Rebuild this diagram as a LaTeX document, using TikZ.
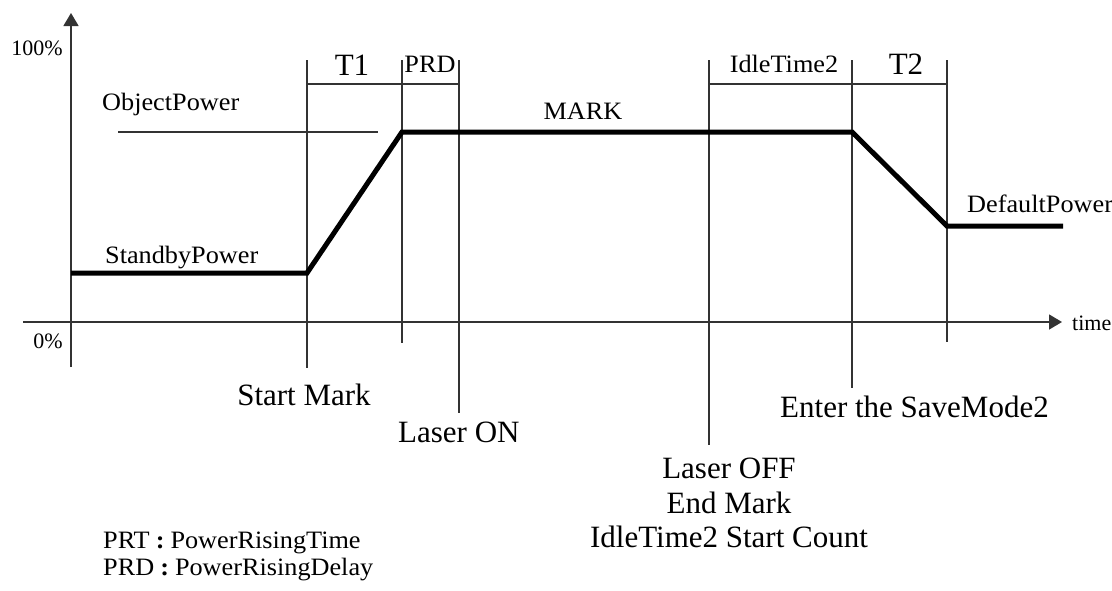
\documentclass[tikz,border=0pt]{standalone}
\usepackage{fontspec}
\setmainfont{Liberation Serif}
\newfontfamily\slab[FakeStretch=1.05]{Liberation Serif}
\usepackage{tikz}
\usetikzlibrary{arrows.meta,positioning}
\definecolor{guidegray}{HTML}{333333}

\begin{document}
\begin{tikzpicture}[x=1pt, y=-1pt,
  guide/.style={draw=guidegray, line width=1.5pt},
  power/.style={draw=black, line width=5pt, line join=miter},
  axis/.style={guide, -{Triangle[length=13pt,width=15pt]}},
  lab/.style={inner sep=0pt, font=\slab\fontsize{25}{27}\selectfont},
  evt/.style={inner sep=0pt, align=center, font=\fontsize{31}{34.5}\selectfont},
  ticklab/.style={inner sep=0pt, font=\fontsize{22}{24}\selectfont}]
\useasboundingbox (0,0) rectangle (1112,590);
% axes
\coordinate (ytop) at (71,13); \coordinate (ybot) at (71,367);
\coordinate (xl) at (23,322); \coordinate (xr) at (1062,322);
\draw[axis] (ybot) -- (ytop);
\draw[axis] (xl) -- (xr);
\node[ticklab, anchor=base east] (full) at (63,55) {100\%};
\node[ticklab, anchor=base east] (zero) at (63,348) {0\%};
\node[ticklab, anchor=base west] (time) at (1072,330) {time};
% event lines
\foreach \n/\x/\yb in {smark/307/368, prd/402/343, lon/459/413, loff/709/445, save/852/388, tend/947/342}{
  \coordinate (\n-t) at (\x,60);
  \coordinate (\n-b) at (\x,\yb);
  \draw[guide] (\n-t) -- (\n-b);}
\coordinate (dimy) at (0,84);
\draw[guide] (smark-t |- dimy) -- (lon-t |- dimy);
\draw[guide] (loff-t |- dimy) -- (tend-t |- dimy);
\node[evt, anchor=base] (t1) at (352,75) {T1};
\node[lab, anchor=base] (prdlab) at (430,72) {PRD};
\node[lab, anchor=base] (idle) at (784,72) {IdleTime2};
\node[evt, anchor=base] (t2) at (906,74) {T2};
% power curve
\coordinate (op-a) at (118,132); \coordinate (op-b) at (378,132);
\draw[guide] (op-a) -- (op-b);
\coordinate (sb-a) at (71,273); \coordinate (sb-b) at (307,273);
\coordinate (ob-a) at (402,132); \coordinate (ob-b) at (852,132);
\coordinate (df-a) at (947,226); \coordinate (df-b) at (1063,226);
\draw[power] (sb-a) -- (sb-b) -- (ob-a) -- (ob-b) -- (df-a) -- (df-b);
\node[lab, anchor=base west] (objp) at (102,110) {ObjectPower};
\node[lab, anchor=base] (mark) at (583,119) {MARK};
\node[lab, anchor=base west] (stby) at (105,263) {StandbyPower};
\node[lab, anchor=base west] (dflt) at (967,212) {DefaultPower};
% events
\node[evt, anchor=base] (start) at (304,405) {Start Mark};
\node[evt, anchor=base west] (laseron) at (398,442) {Laser ON};
\node[evt, anchor=base west] (savemode) at (780,417) {Enter the SaveMode2};
\node[evt, anchor=north] (laseroff) at (729,458) {Laser OFF\\End Mark\\IdleTime2 Start Count};
% legend
\node[lab, anchor=base west] (prt) at (103,548) {PRT\hspace{6pt}{\bfseries :}\hspace{6pt}PowerRisingTime};
\node[lab, anchor=base west] (prd) at (103,575) {PRD\hspace{6pt}{\bfseries :}\hspace{6pt}PowerRisingDelay};
\end{tikzpicture}
\end{document}
